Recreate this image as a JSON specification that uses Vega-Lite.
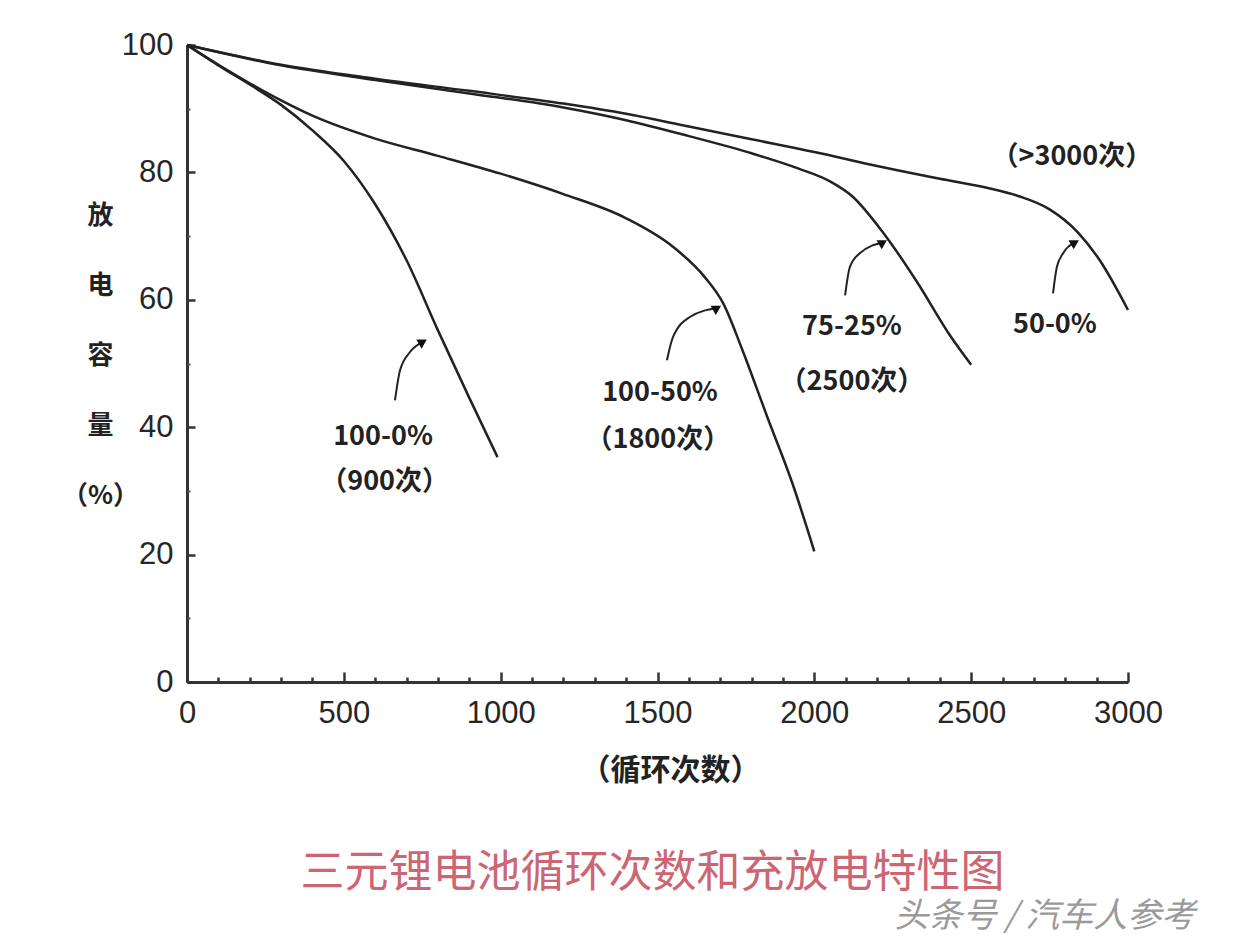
{
  "$schema": "https://vega.github.io/schema/vega-lite/v6.json",
  "width": 941,
  "height": 637,
  "autosize": {"type": "none"},
  "padding": {"left": 187, "top": 45, "right": 108, "bottom": 264},
  "background": "white",
  "config": {"view": {"stroke": null}, "font": "Liberation Sans"},
  "title": {
    "text": "三元锂电池循环次数和充放电特性图",
    "orient": "bottom",
    "anchor": "middle",
    "offset": -82,
    "font": "Noto Sans CJK SC",
    "fontSize": 44,
    "fontWeight": "normal",
    "color": "#cc6673",
    "dx": -5
  },
  "datasets": {
    "curves": [
      {"series": "100-0%", "cycles": 0, "capacity": 100},
      {"series": "100-0%", "cycles": 100, "capacity": 96.8},
      {"series": "100-0%", "cycles": 200, "capacity": 93.8},
      {"series": "100-0%", "cycles": 300, "capacity": 90.6},
      {"series": "100-0%", "cycles": 400, "capacity": 86.6},
      {"series": "100-0%", "cycles": 500, "capacity": 81.8},
      {"series": "100-0%", "cycles": 600, "capacity": 75.0},
      {"series": "100-0%", "cycles": 700, "capacity": 66.2},
      {"series": "100-0%", "cycles": 800, "capacity": 55.2},
      {"series": "100-0%", "cycles": 900, "capacity": 44.6},
      {"series": "100-0%", "cycles": 990, "capacity": 35.3},
      {"series": "100-50%", "cycles": 0, "capacity": 100},
      {"series": "100-50%", "cycles": 100, "capacity": 96.9},
      {"series": "100-50%", "cycles": 200, "capacity": 94.0},
      {"series": "100-50%", "cycles": 300, "capacity": 91.3},
      {"series": "100-50%", "cycles": 400, "capacity": 88.9},
      {"series": "100-50%", "cycles": 600, "capacity": 85.3},
      {"series": "100-50%", "cycles": 800, "capacity": 82.6},
      {"series": "100-50%", "cycles": 1000, "capacity": 79.8},
      {"series": "100-50%", "cycles": 1200, "capacity": 76.6},
      {"series": "100-50%", "cycles": 1400, "capacity": 72.8},
      {"series": "100-50%", "cycles": 1550, "capacity": 68.3},
      {"series": "100-50%", "cycles": 1650, "capacity": 63.6},
      {"series": "100-50%", "cycles": 1710, "capacity": 59.4},
      {"series": "100-50%", "cycles": 1770, "capacity": 52.2},
      {"series": "100-50%", "cycles": 1850, "capacity": 41.6},
      {"series": "100-50%", "cycles": 1930, "capacity": 31.2},
      {"series": "100-50%", "cycles": 2000, "capacity": 20.5},
      {"series": "75-25%", "cycles": 0, "capacity": 100},
      {"series": "75-25%", "cycles": 300, "capacity": 96.8},
      {"series": "75-25%", "cycles": 600, "capacity": 94.5},
      {"series": "75-25%", "cycles": 900, "capacity": 92.4},
      {"series": "75-25%", "cycles": 1200, "capacity": 90.2},
      {"series": "75-25%", "cycles": 1400, "capacity": 88.2},
      {"series": "75-25%", "cycles": 1600, "capacity": 85.7},
      {"series": "75-25%", "cycles": 1800, "capacity": 83.0},
      {"series": "75-25%", "cycles": 1950, "capacity": 80.6},
      {"series": "75-25%", "cycles": 2050, "capacity": 78.6},
      {"series": "75-25%", "cycles": 2120, "capacity": 76.3},
      {"series": "75-25%", "cycles": 2220, "capacity": 70.5},
      {"series": "75-25%", "cycles": 2330, "capacity": 62.6},
      {"series": "75-25%", "cycles": 2430, "capacity": 54.6},
      {"series": "75-25%", "cycles": 2500, "capacity": 49.8},
      {"series": "50-0%", "cycles": 0, "capacity": 100},
      {"series": "50-0%", "cycles": 300, "capacity": 96.9},
      {"series": "50-0%", "cycles": 600, "capacity": 94.7},
      {"series": "50-0%", "cycles": 900, "capacity": 92.8},
      {"series": "50-0%", "cycles": 1200, "capacity": 90.8},
      {"series": "50-0%", "cycles": 1400, "capacity": 89.2},
      {"series": "50-0%", "cycles": 1600, "capacity": 87.2},
      {"series": "50-0%", "cycles": 1800, "capacity": 85.2},
      {"series": "50-0%", "cycles": 2000, "capacity": 83.2},
      {"series": "50-0%", "cycles": 2200, "capacity": 81.0},
      {"series": "50-0%", "cycles": 2400, "capacity": 79.0},
      {"series": "50-0%", "cycles": 2550, "capacity": 77.6},
      {"series": "50-0%", "cycles": 2650, "capacity": 76.3},
      {"series": "50-0%", "cycles": 2750, "capacity": 74.2},
      {"series": "50-0%", "cycles": 2840, "capacity": 70.6},
      {"series": "50-0%", "cycles": 2910, "capacity": 66.2},
      {"series": "50-0%", "cycles": 3000, "capacity": 58.4}
    ],
    "arrows": [
      {"arrow": "A", "cycles": 663, "capacity": 44.2},
      {"arrow": "A", "cycles": 679, "capacity": 48.9},
      {"arrow": "A", "cycles": 711, "capacity": 51.8},
      {"arrow": "A", "cycles": 752, "capacity": 53.4},
      {"arrow": "B", "cycles": 1530, "capacity": 50.5},
      {"arrow": "B", "cycles": 1549, "capacity": 54.1},
      {"arrow": "B", "cycles": 1603, "capacity": 57.3},
      {"arrow": "B", "cycles": 1690, "capacity": 58.7},
      {"arrow": "C", "cycles": 2098, "capacity": 60.7},
      {"arrow": "C", "cycles": 2113, "capacity": 65.1},
      {"arrow": "C", "cycles": 2145, "capacity": 67.3},
      {"arrow": "C", "cycles": 2219, "capacity": 69.0},
      {"arrow": "D", "cycles": 2761, "capacity": 61.0},
      {"arrow": "D", "cycles": 2773, "capacity": 65.1},
      {"arrow": "D", "cycles": 2793, "capacity": 67.3},
      {"arrow": "D", "cycles": 2831, "capacity": 69.0}
    ],
    "heads": [
      {"arrow": "A", "cycles": 752, "capacity": 53.4},
      {"arrow": "B", "cycles": 1690, "capacity": 58.7},
      {"arrow": "C", "cycles": 2219, "capacity": 69.0},
      {"arrow": "D", "cycles": 2831, "capacity": 69.0}
    ],
    "labels": [
      {"label": "100-0%", "cycles": 625, "capacity": 38.4},
      {"label": "（900次）", "cycles": 630, "capacity": 31.4},
      {"label": "100-50%", "cycles": 1508, "capacity": 45.3},
      {"label": "（1800次）", "cycles": 1501, "capacity": 38.0},
      {"label": "75-25%", "cycles": 2120, "capacity": 55.7},
      {"label": "（2500次）", "cycles": 2120, "capacity": 47.1},
      {"label": "50-0%", "cycles": 2767, "capacity": 56.0},
      {"label": "（>3000次）", "cycles": 2821, "capacity": 82.4}
    ],
    "watermark": [
      {"label": "头条号 / 汽车人参考", "cycles": 2735, "capacity": -36.9}
    ]
  },
  "resolve": {"axis": {"x": "independent", "y": "independent"}},
  "layer": [
    {
      "data": {"name": "curves"},
      "mark": {"type": "line", "interpolate": "monotone", "stroke": "#222222", "strokeWidth": 2.5},
      "encoding": {
        "x": {
          "field": "cycles", "type": "quantitative",
          "scale": {"domain": [0, 3000], "nice": false},
          "axis": {
            "orient": "bottom",
            "values": [0, 500, 1000, 1500, 2000, 2500, 3000],
            "format": "d",
            "grid": false,
            "tickSize": -10, "tickWidth": 2.5, "tickColor": "#333333",
            "domainColor": "#333333", "domainWidth": 3,
            "labelFont": "Liberation Sans", "labelFontSize": 31, "labelColor": "#262626", "labelPadding": 26,
            "labelFlush": false,
            "title": "（循环次数）",
            "titleFont": "Noto Sans CJK SC", "titleFontSize": 30, "titleFontWeight": "bold", "titleColor": "#222222",
            "titleX": 483, "titleY": 88, "titleBaseline": "middle", "titleAlign": "center"
          }
        },
        "y": {
          "field": "capacity", "type": "quantitative",
          "scale": {"domain": [0, 100], "nice": false},
          "axis": {
            "orient": "left",
            "values": [0, 20, 40, 60, 80, 100],
            "grid": false,
            "tickSize": -8, "tickWidth": 2.5, "tickColor": "#333333",
            "domainColor": "#333333", "domainWidth": 3,
            "labelFont": "Liberation Sans", "labelFontSize": 31, "labelColor": "#262626", "labelPadding": 22,
            "labelFlush": false,
            "title": ["放", "电", "容", "量", "（%）"],
            "titleFont": "Noto Sans CJK SC", "titleFontSize": 26, "titleFontWeight": "bold", "titleColor": "#222222",
            "titleAngle": 0, "titleX": -87, "titleY": 170, "titleLineHeight": 70,
            "titleBaseline": "middle", "titleAlign": "center"
          }
        },
        "detail": {"field": "series", "type": "nominal"}
      }
    },
    {
      "data": {"name": "arrows"},
      "mark": {"type": "line", "interpolate": "monotone", "stroke": "#222222", "strokeWidth": 2},
      "encoding": {
        "x": {
          "field": "cycles", "type": "quantitative",
          "axis": {
            "orient": "bottom",
            "values": [100, 200, 300, 400, 600, 700, 800, 900, 1100, 1200, 1300, 1400, 1600, 1700, 1800, 1900, 2100, 2200, 2300, 2400, 2600, 2700, 2800, 2900],
            "grid": false, "domain": false, "labels": false, "title": null,
            "tickSize": -5, "tickWidth": 2.5, "tickColor": "#333333"
          }
        },
        "y": {
          "field": "capacity", "type": "quantitative",
          "axis": {
            "orient": "left",
            "values": [10, 30, 50, 70, 90],
            "grid": false, "domain": false, "labels": false, "title": null,
            "tickSize": -3, "tickWidth": 2, "tickColor": "#555555"
          }
        },
        "detail": {"field": "arrow", "type": "nominal"}
      }
    },
    {
      "data": {"name": "heads"},
      "mark": {"type": "point", "shape": "triangle-right", "filled": true, "color": "#111111", "size": 110, "angle": -30, "opacity": 1},
      "encoding": {
        "x": {"field": "cycles", "type": "quantitative", "axis": null},
        "y": {"field": "capacity", "type": "quantitative", "axis": null}
      }
    },
    {
      "data": {"name": "labels"},
      "mark": {"type": "text", "font": "Noto Sans CJK SC", "fontSize": 27, "fontWeight": "bold", "color": "#222222", "align": "center", "baseline": "middle"},
      "encoding": {
        "x": {"field": "cycles", "type": "quantitative", "axis": null},
        "y": {"field": "capacity", "type": "quantitative", "axis": null},
        "text": {"field": "label", "type": "nominal"}
      }
    },
    {
      "data": {"name": "watermark"},
      "mark": {"type": "text", "font": "Noto Sans CJK SC", "fontSize": 34, "fontStyle": "italic", "color": "#9a9a9a", "align": "center", "baseline": "middle"},
      "encoding": {
        "x": {"field": "cycles", "type": "quantitative", "axis": null},
        "y": {"field": "capacity", "type": "quantitative", "axis": null},
        "text": {"field": "label", "type": "nominal"}
      }
    }
  ]
}
